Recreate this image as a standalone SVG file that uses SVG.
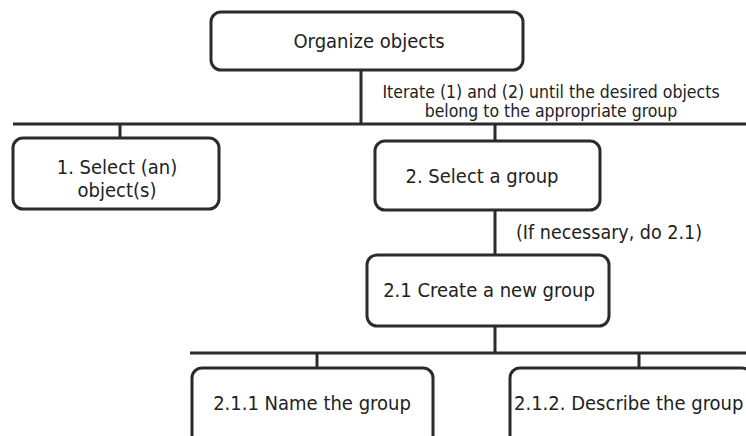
<svg xmlns="http://www.w3.org/2000/svg" width="746" height="436" viewBox="0 0 746 436">
<style>
  .box { fill: #ffffff; stroke: #2b2b2b; stroke-width: 3; }
  .ln { stroke: #2b2b2b; stroke-width: 3; fill: none; }
  .nt { font-family: 'DejaVu Sans Condensed', 'DejaVu Sans', sans-serif; font-stretch: condensed; font-size: 20px; fill: #222; text-anchor: middle; }
  .lb { font-family: 'DejaVu Sans Condensed', 'DejaVu Sans', sans-serif; font-stretch: condensed; font-size: 17.5px; fill: #222; text-anchor: middle; }
</style>
<rect width="746" height="436" fill="#ffffff"/>
<g id="connectors">
  <line class="ln" x1="361" y1="70" x2="361" y2="124"/>
  <line class="ln" x1="13" y1="124" x2="746" y2="124"/>
  <line class="ln" x1="120" y1="124" x2="120" y2="138"/>
  <line class="ln" x1="495" y1="124" x2="495" y2="141"/>
  <line class="ln" x1="495" y1="210" x2="495" y2="255"/>
  <line class="ln" x1="495" y1="326" x2="495" y2="353"/>
  <line class="ln" x1="190" y1="353" x2="746" y2="353"/>
  <line class="ln" x1="317" y1="353" x2="317" y2="368"/>
  <line class="ln" x1="639" y1="353" x2="639" y2="368"/>
  <text class="lb" x="551" y="98">Iterate (1) and (2) until the desired objects</text>
  <text class="lb" x="551" y="117">belong to the appropriate group</text>
  <text class="lb" x="516" y="239" style="text-anchor:start;font-size:19.5px">(If necessary, do 2.1)</text>
</g>
<g id="n0">
  <rect class="box" x="211" y="12" width="312" height="58" rx="10"/>
  <text class="nt" x="369" y="48">Organize objects</text>
</g>
<g id="n1">
  <rect class="box" x="13" y="138" width="206" height="71" rx="10"/>
  <text class="nt" x="117" y="174">1. Select (an)</text>
  <text class="nt" x="117" y="197">object(s)</text>
</g>
<g id="n2">
  <rect class="box" x="375" y="141" width="225" height="69" rx="10"/>
  <text class="nt" x="482" y="183">2. Select a group</text>
</g>
<g id="n21">
  <rect class="box" x="367" y="255" width="242" height="71" rx="10"/>
  <text class="nt" x="489" y="297">2.1 Create a new group</text>
</g>
<g id="n211">
  <rect class="box" x="192" y="368" width="241" height="80" rx="10"/>
  <text class="nt" x="312" y="410">2.1.1 Name the group</text>
</g>
<g id="n212">
  <rect class="box" x="510" y="368" width="242" height="80" rx="10"/>
  <text class="nt" x="514" y="410" style="text-anchor:start">2.1.2. Describe the group</text>
</g>
</svg>
